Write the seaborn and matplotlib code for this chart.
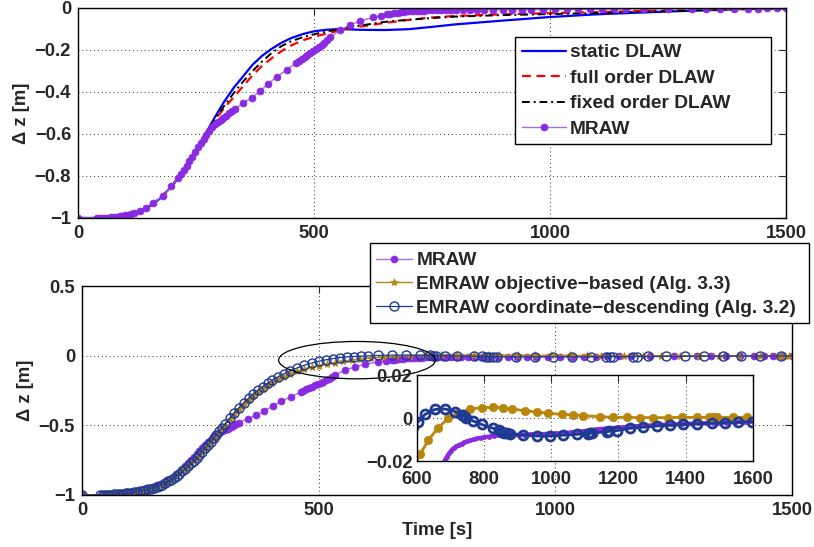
import matplotlib
matplotlib.use('Agg')
import matplotlib.pyplot as plt
import seaborn as sns
from matplotlib.patches import Ellipse, Rectangle

# ---- top panel: DLAW variants ----
t_dlaw = [0, 25, 50, 75, 100, 125, 150, 175, 200, 225, 250, 270, 290, 310, 330, 350, 370, 390, 410,
          430, 450, 475, 500, 525, 550, 575, 600, 650, 700, 750, 800, 900, 1000, 1100, 1200, 1300, 1400, 1500]
z_static = [-1, -1, -0.999, -0.995, -0.987, -0.972, -0.946, -0.905, -0.845, -0.77, -0.68, -0.6, -0.52,
            -0.445, -0.38, -0.325, -0.27, -0.228, -0.195, -0.167, -0.145, -0.125, -0.111, -0.104, -0.101,
            -0.102, -0.104, -0.105, -0.101, -0.09, -0.078, -0.06, -0.043, -0.03, -0.021, -0.013, -0.006, -0.001]
z_full = [-1, -1, -0.999, -0.995, -0.987, -0.972, -0.946, -0.905, -0.845, -0.77, -0.68, -0.6, -0.535,
          -0.475, -0.425, -0.372, -0.32, -0.275, -0.24, -0.207, -0.18, -0.155, -0.137, -0.123, -0.109,
          -0.097, -0.088, -0.071, -0.057, -0.045, -0.038, -0.03, -0.025, -0.02, -0.013, -0.008, -0.004, -0.001]
z_fixed = [-1, -1, -0.999, -0.995, -0.987, -0.972, -0.946, -0.905, -0.845, -0.77, -0.68, -0.6, -0.53,
           -0.465, -0.405, -0.35, -0.3, -0.255, -0.215, -0.183, -0.16, -0.14, -0.125, -0.113, -0.102,
           -0.092, -0.083, -0.066, -0.056, -0.048, -0.041, -0.034, -0.029, -0.024, -0.018, -0.012, -0.006, -0.002]

# ---- MRAW (both panels) ----
t_mraw = [0, 40, 46, 52, 58, 64, 70, 76, 82, 88, 94, 100, 106, 112, 118, 131, 145, 159, 180, 198,
          212, 218, 224, 230, 236, 242, 248, 254, 260, 266, 272, 278, 284, 290, 296, 302, 308, 314, 320,
          326, 332, 350, 368, 385, 403, 421, 442, 462, 468, 474, 480, 486, 492, 498, 504, 510, 516, 522,
          528, 534, 555, 576, 597, 625, 643, 654, 662, 670, 678, 684, 690, 696, 702, 710, 718, 726, 734,
          742, 750, 760, 770, 780, 790, 800, 815, 830, 845, 860, 880, 900, 920, 940, 960, 985, 1010, 1035,
          1060, 1085, 1110, 1135, 1160, 1200, 1250, 1300, 1330, 1360, 1390, 1420, 1440, 1460, 1480, 1500,
          1520, 1550, 1575, 1600]
z_mraw = [-1, -1, -1.0, -0.9995, -0.999, -0.998, -0.997, -0.996, -0.994, -0.992, -0.99, -0.988, -0.985,
          -0.981, -0.977, -0.966, -0.951, -0.931, -0.893, -0.85, -0.81, -0.791, -0.772, -0.751, -0.729,
          -0.708, -0.686, -0.664, -0.642, -0.622, -0.605, -0.587, -0.569, -0.554, -0.543, -0.534, -0.524,
          -0.514, -0.502, -0.491, -0.481, -0.453, -0.427, -0.397, -0.361, -0.327, -0.295, -0.261, -0.251,
          -0.242, -0.232, -0.223, -0.214, -0.205, -0.197, -0.188, -0.178, -0.166, -0.153, -0.14, -0.105,
          -0.081, -0.063, -0.045, -0.036, -0.031, -0.028, -0.025, -0.022, -0.0195, -0.018, -0.0165, -0.0152,
          -0.014, -0.0132, -0.0125, -0.012, -0.0113, -0.0108, -0.0104, -0.0099, -0.0095, -0.0092, -0.0089,
          -0.0086, -0.0083, -0.0081, -0.008, -0.0079, -0.0078, -0.0077, -0.0076, -0.0075, -0.0074, -0.0072,
          -0.007, -0.0067, -0.0063, -0.0058, -0.0053, -0.0049, -0.0044, -0.0038, -0.0034, -0.0031, -0.003,
          -0.0028, -0.0026, -0.0025, -0.0024, -0.0023, -0.0022, -0.0021, -0.0019, -0.0018, -0.0017]

# ---- EMRAW objective-based (Alg. 3.3) ----
t_obj = [0, 38, 46, 54, 62, 70, 78, 86, 94, 102, 110, 118, 126, 134, 142, 150, 158, 166, 174, 182, 190,
         198, 206, 214, 222, 230, 238, 246, 254, 262, 270, 278, 286, 294, 302, 312, 322, 332, 342, 352, 362,
         372, 382, 392, 402, 414, 426, 440, 455, 470, 485, 500, 517, 535, 552, 570, 587, 610, 635, 664, 694,
         724, 758, 793, 828, 857, 882, 922, 957, 991, 1031, 1066, 1096, 1145, 1185, 1224, 1264, 1304, 1346,
         1389, 1433, 1470, 1478, 1486, 1494, 1542, 1582]
z_obj = [-1, -1, -1, -0.999, -0.998, -0.996, -0.994, -0.991, -0.988, -0.984, -0.98, -0.975, -0.97, -0.964,
         -0.957, -0.95, -0.942, -0.931, -0.918, -0.902, -0.885, -0.866, -0.845, -0.822, -0.798, -0.772, -0.745,
         -0.717, -0.688, -0.658, -0.627, -0.595, -0.562, -0.529, -0.495, -0.455, -0.417, -0.381, -0.347, -0.316,
         -0.287, -0.26, -0.236, -0.213, -0.193, -0.17, -0.15, -0.129, -0.11, -0.095, -0.083, -0.073, -0.062,
         -0.051, -0.041, -0.032, -0.025, -0.0169, -0.0102, -0.0045, -0.0002, 0.0022, 0.0042, 0.0048, 0.005,
         0.0048, 0.0042, 0.0034, 0.0028, 0.0022, 0.0017, 0.0014, 0.0011, 0.0006, 0.0003, 0.0003, 0.0002,
         0.0002, 0.0002, 0.0003, 0.0003, 0.0003, 0.0003, 0.0003, 0.0003, 0.0003, 0.0004]

# ---- EMRAW coordinate-descending (Alg. 3.2) ----
t_cd = [0, 38, 44, 50, 56, 62, 68, 74, 80, 86, 92, 98, 104, 110, 116, 122, 128, 134, 140, 146, 152, 158,
        164, 170, 176, 182, 188, 194, 200, 206, 212, 218, 224, 230, 236, 242, 248, 254, 260, 266, 272, 278,
        284, 290, 296, 302, 312, 322, 332, 342, 352, 362, 372, 382, 392, 402, 414, 426, 440, 455, 470, 485,
        500, 515, 530, 545, 560, 575, 590, 605, 625, 654, 684, 714, 736, 742, 748, 768, 793, 828, 845, 853,
        861, 869, 877, 917, 957, 996, 1036, 1076, 1108, 1115, 1122, 1165, 1172, 1195, 1234, 1274, 1314,
        1354, 1393, 1433, 1477, 1517, 1556, 1596]
z_cd = [-1, -1, -1.0, -0.999, -0.9985, -0.998, -0.9965, -0.995, -0.993, -0.991, -0.989, -0.987, -0.984,
        -0.981, -0.977, -0.973, -0.969, -0.964, -0.959, -0.955, -0.95, -0.943, -0.934, -0.925, -0.914, -0.903,
        -0.891, -0.877, -0.862, -0.846, -0.829, -0.812, -0.793, -0.774, -0.754, -0.733, -0.711, -0.689,
        -0.666, -0.643, -0.619, -0.594, -0.569, -0.544, -0.518, -0.492, -0.45, -0.41, -0.373, -0.338, -0.305,
        -0.275, -0.247, -0.222, -0.199, -0.177, -0.153, -0.131, -0.108, -0.087, -0.068, -0.053, -0.04, -0.03,
        -0.021, -0.014, -0.008, -0.006, -0.004, -0.0017, 0.0017, 0.004, 0.0042, 0.003, 0.0015, 0.0008, 0.0002,
        -0.0014, -0.003, -0.0048, -0.0058, -0.0064, -0.0069, -0.0072, -0.0074, -0.0079, -0.0084, -0.0084,
        -0.008, -0.0076, -0.0073, -0.0071, -0.007, -0.0064, -0.0062, -0.0059, -0.0048, -0.0043, -0.0037,
        -0.0033, -0.003, -0.0027, -0.0024, -0.0021, -0.0019, -0.0017]

C_PURPLE = '#8a2be2'
C_PURPLE_LINE = '#a46ee8'
C_GOLD = '#b8860b'
C_NAVY = '#1f3a93'
W, H = 814, 547

sns.set_style('white')
plt.rcParams['font.family'] = ['Liberation Sans', 'DejaVu Sans']
plt.rcParams['font.weight'] = 'bold'
plt.rcParams['axes.labelweight'] = 'bold'

fig = plt.figure(figsize=(8.14, 5.47), dpi=100)
ax1 = fig.add_axes([0.0958, 0.6015, 0.8698, 0.3839])
ax2 = fig.add_axes([0.1007, 0.0951, 0.8722, 0.382])
axin = fig.add_axes([0.5119, 0.1572, 0.4131, 0.1572])


def style(ax):
    ax.tick_params(direction='in', top=True, right=True, length=5, width=0.8,
                   labelsize=13.3, pad=5)
    ax.grid(True, linestyle=(0, (1, 3)), color='0.2', linewidth=0.7)
    for s in ax.spines.values():
        s.set_visible(True)
        s.set_color('black')
        s.set_linewidth(1.0)


def line(ax, x, y, **kw):
    sns.lineplot(x=x, y=y, ax=ax, estimator=None, errorbar=None, sort=False, legend=False, **kw)


def boxed_legend(ax, box_px, anchor_px, handlelength, labelspacing):
    # MATLAB-like legend box: fixed white frame, legend entries drawn on top
    x0, y0, x1, y1 = box_px
    ax.add_patch(Rectangle((x0 / W, 1 - y1 / H), (x1 - x0) / W, (y1 - y0) / H,
                           transform=fig.transFigure, facecolor='white', edgecolor='black',
                           lw=1.0, clip_on=False, zorder=4.9))
    leg = ax.legend(loc='upper left', bbox_to_anchor=(anchor_px[0] / W, 1 - anchor_px[1] / H),
                    bbox_transform=fig.transFigure, borderaxespad=0, borderpad=0,
                    prop={'weight': 'bold', 'size': 13.8}, frameon=False,
                    handlelength=handlelength, labelspacing=labelspacing, numpoints=1,
                    handletextpad=0.2)
    leg.set_zorder(5)


# top panel
line(ax1, t_dlaw, z_static, color='#0000ff', lw=1.6, label='static DLAW')
line(ax1, t_dlaw, z_full, color='#ff0000', lw=1.6, linestyle=(0, (4, 2.5)), label='full order DLAW')
line(ax1, t_dlaw, z_fixed, color='black', lw=1.4, linestyle=(0, (4, 2, 1, 2)), label='fixed order DLAW')
line(ax1, t_mraw, z_mraw, color=C_PURPLE_LINE, lw=1.0, marker='o', ms=5, mfc=C_PURPLE, mec=C_PURPLE,
     mew=0.5, label='MRAW')
ax1.set_xlim(0, 1500)
ax1.set_ylim(-1, 0)
ax1.set_xticks([0, 500, 1000, 1500])
ax1.set_yticks([-1, -0.8, -0.6, -0.4, -0.2, 0])
ax1.set_yticklabels(['\u22121', '\u22120.8', '\u22120.6', '\u22120.4', '\u22120.2', '0'])
ax1.set_ylabel('\u0394 z [m]', fontsize=13.3, labelpad=3)
ax1.set_xlabel('')
style(ax1)
boxed_legend(ax1, (515, 37, 771, 144), (522, 44), 2.3, 0.42)

# bottom panel
line(ax2, t_mraw, z_mraw, color=C_PURPLE_LINE, lw=1.0, marker='o', ms=5, mfc=C_PURPLE, mec=C_PURPLE,
     mew=0.5, label='MRAW')
line(ax2, t_obj, z_obj, color=C_GOLD, lw=1.0, marker='*', ms=6, mfc=C_GOLD, mec=C_GOLD, mew=0.5,
     label='EMRAW objective\u2212based (Alg. 3.3)')
line(ax2, t_cd, z_cd, color=C_NAVY, lw=0.9, marker='o', ms=6.5, mfc='none', mec=C_NAVY, mew=1.0,
     label='EMRAW coordinate\u2212descending (Alg. 3.2)')
ax2.add_patch(Ellipse((581, -0.032), 331, 0.268, fill=False, ec='black', lw=0.9, zorder=6))
ax2.set_xlim(0, 1500)
ax2.set_ylim(-1, 0.5)
ax2.set_xticks([0, 500, 1000, 1500])
ax2.set_yticks([-1, -0.5, 0, 0.5])
ax2.set_yticklabels(['\u22121', '\u22120.5', '0', '0.5'])
ax2.set_ylabel('\u0394 z [m]', fontsize=13.3, labelpad=3)
ax2.set_xlabel('Time [s]', fontsize=13.3, labelpad=2)
style(ax2)
boxed_legend(ax2, (370, 243, 809, 323), (376, 252), 1.9, 0.33)

# zoomed inset
axin.set_facecolor('white')
line(axin, t_mraw, z_mraw, color=C_PURPLE, lw=3.0, marker='o', ms=3, mfc=C_PURPLE, mec=C_PURPLE, mew=0.5)
line(axin, t_obj, z_obj, color=C_GOLD, lw=2.0, marker='o', ms=6, mfc=C_GOLD, mec=C_GOLD, mew=0.5)
line(axin, t_cd, z_cd, color=C_NAVY, lw=2.0, marker='o', ms=6.5, mfc='none', mec=C_NAVY, mew=2.0)
axin.set_xlim(600, 1600)
axin.set_ylim(-0.02, 0.02)
axin.set_xticks([600, 800, 1000, 1200, 1400, 1600])
axin.set_yticks([-0.02, 0, 0.02])
axin.set_yticklabels(['\u22120.02', '0', '0.02'])
axin.set_xlabel('')
axin.set_ylabel('')
style(axin)
axin.tick_params(axis='x', pad=7)
axin.tick_params(axis='y', pad=3)

fig.savefig('out.png', dpi=100)
